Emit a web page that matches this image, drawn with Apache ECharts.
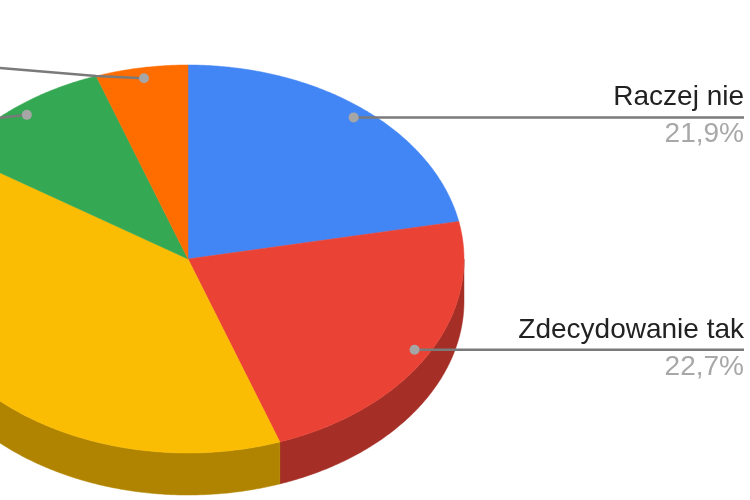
<!DOCTYPE html>
<html><head><meta charset="utf-8">
<style>html,body{margin:0;padding:0;background:#fff}#c{width:750px;height:500px}</style>
<script src="https://cdn.jsdelivr.net/npm/echarts@6/dist/echarts.min.js"></script>
</head><body><div id="c"></div>
<script>
const categories = ["Raczej nie", "Zdecydowanie tak", "", "", ""];
const shareValues = [21.9, 22.7, 39.6, 10.4, 5.4];
const sliceColors = ["#4285f4", "#ea4335", "#fbbc04", "#34a853", "#ff6d01"];
const sideColors = ["#2e5daa", "#a52f26", "#b08400", "#247538", "#b34c00"];

const CX = 188, CY = 259, RX = 276, RY = 194, DEPTH = 42;
const total = shareValues.reduce((a, b) => a + b, 0);
const pt = (deg, f = 1, dy = 0) => {
  const r = deg * Math.PI / 180;
  return [CX + RX * f * Math.sin(r), CY - RY * f * Math.cos(r) + dy];
};
const arc = (a, b) => {
  const out = [], n = Math.max(2, Math.ceil((b - a) * 2));
  for (let i = 0; i <= n; i++) out.push(pt(a + (b - a) * i / n));
  return out;
};
const LINE = "#7a7a7a";
function renderItem(params, api) {
  const i = params.dataIndex;
  let start = 0;
  for (let k = 0; k < i; k++) start += shareValues[k] / total * 360;
  const end = start + api.value(0) / total * 360;
  const children = [];
  const sa = Math.max(start, 90), sb = Math.min(end, 270);
  if (sb > sa) {
    const rim = arc(sa, sb);
    const low = rim.map(p => [p[0], p[1] + DEPTH]).reverse();
    children.push({ type: "polygon", shape: { points: rim.concat(low) },
      style: { fill: sideColors[i], stroke: sideColors[i], lineWidth: 0.5 } });
  }
  children.push({ type: "polygon", shape: { points: [[CX, CY]].concat(arc(start, end)) },
    style: { fill: sliceColors[i], stroke: sliceColors[i], lineWidth: 0.5 } });
  const dot = pt((start + end) / 2, 0.945);
  let route = null;
  if (categories[i]) route = [dot, [744, dot[1]]];
  else if (i === 3) route = [dot, [0, dot[1] + 3]];
  else if (i === 4) route = [dot, pt(start, 1), [0, 68]];
  if (route) {
    children.push({ type: "polyline", shape: { points: route },
      style: { stroke: LINE, lineWidth: 2.5, fill: null } });
    children.push({ type: "circle", shape: { cx: dot[0], cy: dot[1], r: 5 },
      style: { fill: "#a6a6a6" } });
  }
  if (categories[i]) {
    children.push({ type: "text", style: { text: categories[i], x: 744, y: dot[1] - 20,
      align: "right", verticalAlign: "middle", fill: "#222222",
      font: "28px 'Liberation Sans', Arial, sans-serif" } });
    children.push({ type: "text", style: { text: api.value(0).toFixed(1).replace(".", ",") + "%",
      x: 744, y: dot[1] + 17, align: "right", verticalAlign: "middle", fill: "#a8a8a8",
      font: "28px 'Liberation Sans', Arial, sans-serif" } });
  }
  return { type: "group", children };
}
const chart = echarts.init(document.getElementById("c"), null, { renderer: "canvas" });
chart.setOption({
  animation: false,
  backgroundColor: "#ffffff",
  series: [{
    type: "custom",
    coordinateSystem: "none",
    renderItem,
    data: shareValues.map((v, i) => ({ name: categories[i], value: [v] }))
  }]
});
</script></body></html>
